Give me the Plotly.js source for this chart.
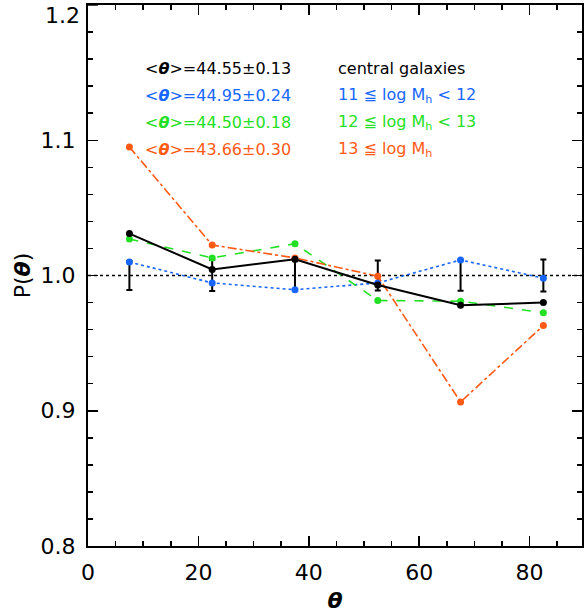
<!DOCTYPE html>
<html>
<head>
<meta charset="utf-8">
<script src="https://cdn.plot.ly/plotly-3.0.1.min.js"></script>
<style>html,body{margin:0;padding:0;background:#fff;}#chart{width:584px;height:613px;}</style>
</head>
<body>
<div id="chart"></div>
<script>
// Bin centres (degrees)
var theta = [7.5, 22.5, 37.5, 52.5, 67.5, 82.5];
// P(theta) for each sample
var pCentral = [1.031, 1.0045, 1.012, 0.993, 0.978, 0.980];
var pLow     = [1.010, 0.9945, 0.9895, 0.9945, 1.0115, 0.998];
var pMid     = [1.027, 1.013, 1.0235, 0.9815, 0.981, 0.9725];
var pHigh    = [1.095, 1.0225, 1.013, 0.9995, 0.9065, 0.963];
// Random expectation and its scatter
var pRandom  = [1.0, 1.0, 1.0, 1.0, 1.0, 1.0];
var errRandom = [0.0107, 0.0115, 0.0105, 0.011, 0.0113, 0.0118];

// Axis ticks
var yTickVals = [0.8, 0.9, 1.0, 1.1];
var yTickText = ['0.8', '0.9', '1.0', '1.1'];
var yTopVal = 1.2, yTopText = '1.2';
var xTickVals = [0, 20, 40, 60, 80];

var labelsMean = ['<θ>=44.55±0.13', '<θ>=44.95±0.24', '<θ>=44.50±0.18', '<θ>=43.66±0.30'];
var labelsBin  = ['central galaxies', '11 ≦ log M<sub>h</sub> < 12', '12 ≦ log M<sub>h</sub> < 13', '13 ≦ log M<sub>h</sub>'];
var colors = ['#000000', '#1666ff', '#22e022', '#ff5a14'];

var FONT = 'DejaVu Sans, sans-serif';

var traces = [
  {x: theta, y: pRandom, type: 'scatter', mode: 'markers', marker: {size: 0.1, color: '#000'},
   error_y: {type: 'data', array: errRandom, symmetric: true, color: '#000', thickness: 2, width: 3}, hoverinfo: 'skip'},
  {x: theta, y: pLow, type: 'scatter', mode: 'lines+markers',
   line: {color: colors[1], width: 1.6, dash: 'dot'}, marker: {color: colors[1], size: 7}},
  {x: theta, y: pMid, type: 'scatter', mode: 'lines+markers',
   line: {color: colors[2], width: 1.6, dash: 'dash'}, marker: {color: colors[2], size: 7}},
  {x: theta, y: pHigh, type: 'scatter', mode: 'lines+markers',
   line: {color: colors[3], width: 1.6, dash: 'dashdot'}, marker: {color: colors[3], size: 7}},
  {x: theta, y: pCentral, type: 'scatter', mode: 'lines+markers',
   line: {color: colors[0], width: 2}, marker: {color: colors[0], size: 7}}
];

var annotations = [];
var rowY = [0.882, 0.832, 0.782, 0.733];
for (var i = 0; i < 4; i++) {
  annotations.push({xref: 'x', yref: 'paper', x: 10, y: rowY[i], xanchor: 'left', yanchor: 'middle',
    text: labelsMean[i].replace('θ', '<b><i>θ</i></b>'), showarrow: false,
    font: {family: FONT, size: 16, color: colors[i]}});
  annotations.push({xref: 'x', yref: 'paper', x: 45, y: rowY[i], xanchor: 'left', yanchor: 'middle',
    text: labelsBin[i], showarrow: false,
    font: {family: FONT, size: 16, color: colors[i]}});
}
// top y tick label, placed just inside the figure like the reference
annotations.push({xref: 'paper', yref: 'y', x: 0, y: yTopVal, xanchor: 'right', yanchor: 'top',
  xshift: -6, yshift: 4, text: yTopText, showarrow: false,
  font: {family: FONT, size: 22, color: '#000'}});

var layout = {
  width: 584, height: 613,
  margin: {l: 88, r: 1.5, t: 5, b: 67},
  paper_bgcolor: '#fff', plot_bgcolor: '#fff',
  showlegend: false,
  font: {family: FONT, size: 22, color: '#000'},
  xaxis: {
    range: [0, 89.5], tickvals: xTickVals, ticks: 'inside', ticklen: 10, tickwidth: 1.5,
    tickcolor: '#000', showline: true, linecolor: '#000', linewidth: 2, mirror: 'allticks',
    showgrid: false, zeroline: false, ticklabeloverflow: 'allow',
    minor: {dtick: 5, tick0: 0, ticks: 'inside', ticklen: 5, tickwidth: 1.5, tickcolor: '#000', showgrid: false},
    tickfont: {family: FONT, size: 22}, ticklabelstandoff: 6,
    title: {text: '<b><i>θ</i></b>', font: {family: FONT, size: 22}, standoff: 9}
  },
  yaxis: {
    range: [0.8, 1.2], tickvals: yTickVals, ticktext: yTickText,
    ticks: 'inside', ticklen: 10, tickwidth: 1.5,
    tickcolor: '#000', showline: true, linecolor: '#000', linewidth: 2, mirror: 'allticks',
    showgrid: false, zeroline: false, ticklabeloverflow: 'allow',
    minor: {dtick: 0.02, tick0: 0.8, ticks: 'inside', ticklen: 5, tickwidth: 1.5, tickcolor: '#000', showgrid: false},
    tickfont: {family: FONT, size: 22}, ticklabelstandoff: 6,
    title: {text: 'P(<b><i>θ</i></b>)', font: {family: FONT, size: 22}, standoff: 4}
  },
  shapes: [
    {type: 'line', xref: 'paper', yref: 'y', x0: 0, x1: 1, y0: 1.0, y1: 1.0,
     line: {color: '#000', width: 1.5, dash: 'dot'}, layer: 'below'},
    {type: 'line', xref: 'paper', yref: 'y', x0: 0, x1: 0.02, y0: yTopVal, y1: yTopVal,
     line: {color: '#000', width: 1.5}}
  ],
  annotations: annotations
};

Plotly.newPlot('chart', traces, layout, {displayModeBar: false, staticPlot: true});
</script>
</body>
</html>
